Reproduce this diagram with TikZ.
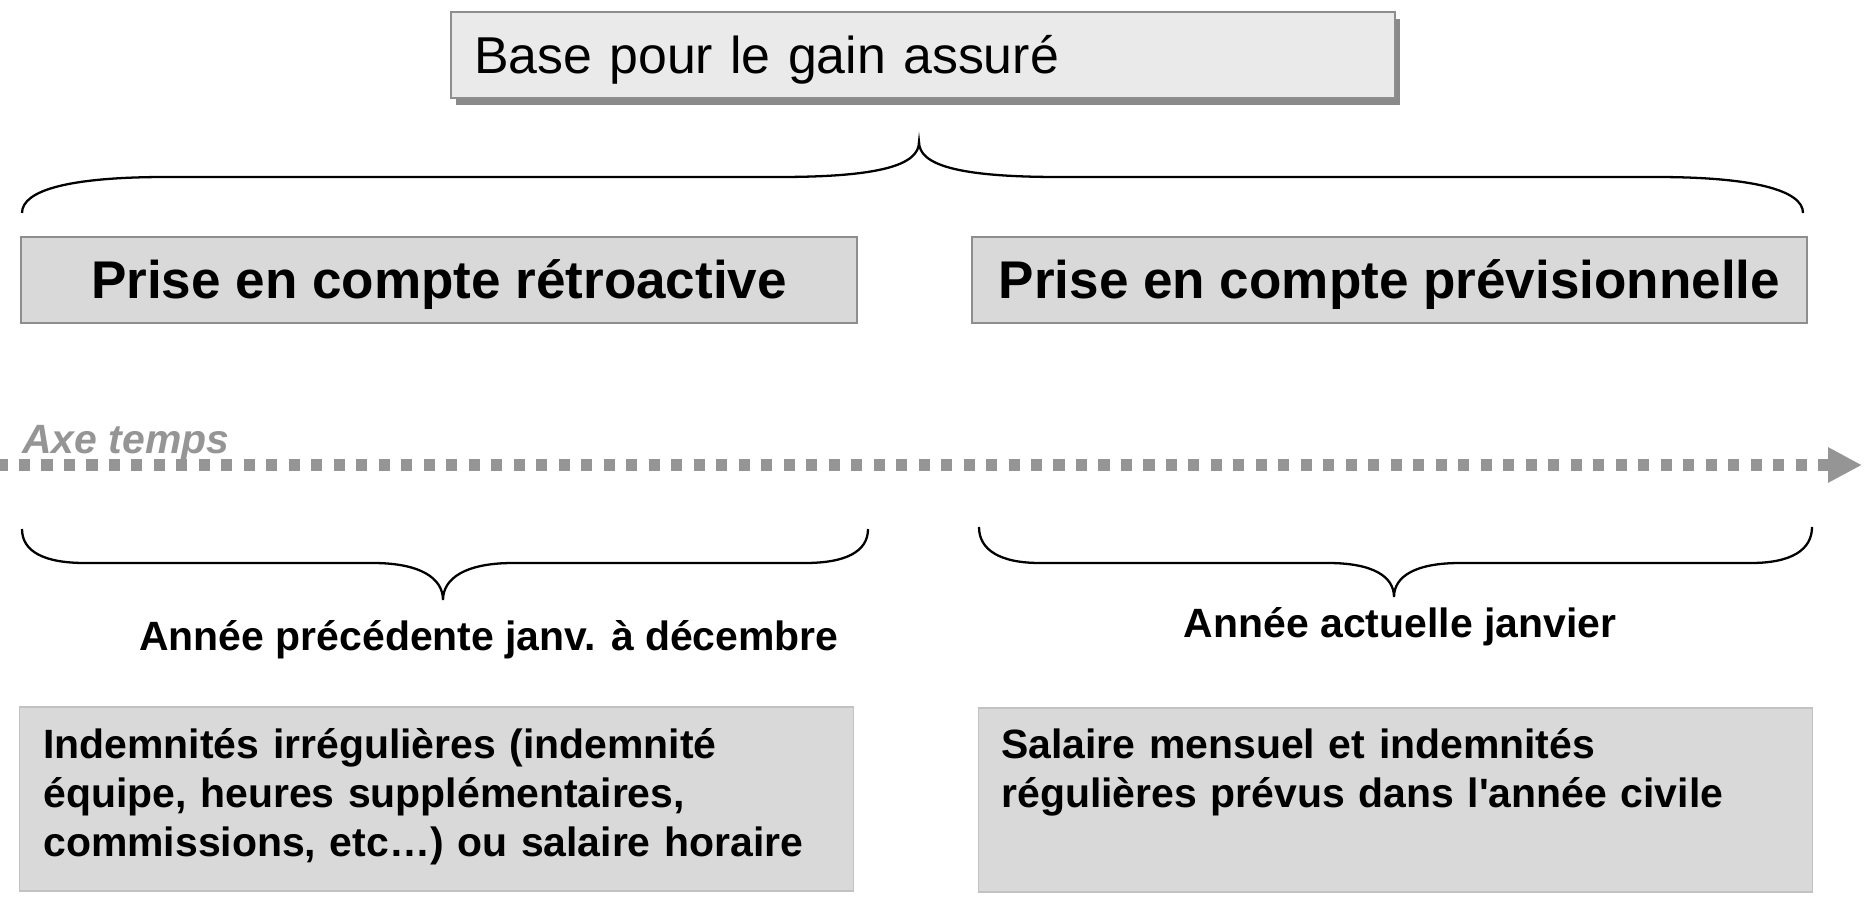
\documentclass[tikz,border=0pt]{standalone}
\usepackage{fontspec}
\setmainfont{Liberation Sans}
\usetikzlibrary{arrows.meta,shadows}

\definecolor{topfill}{HTML}{EAEAEA}
\definecolor{boxfill}{HTML}{D9D9D9}
\definecolor{edgegray}{HTML}{8E8E8E}
\definecolor{lightedge}{HTML}{C2C2C2}
\definecolor{shadegray}{HTML}{8A8A8A}
\definecolor{axisgray}{HTML}{959595}

\newcommand{\topfont}{\fontsize{29.5}{36}\selectfont}
\newcommand{\boxfont}{\fontsize{30.2}{36}\selectfont}
\newcommand{\notefont}{\fontsize{23.3}{27.9}\selectfont}

\tikzset{
  topbox/.style={draw=edgegray, line width=1.4pt, fill=topfill,
    drop shadow={shadow xshift=3pt, shadow yshift=-4pt, opacity=1, fill=shadegray},
    minimum height=1.72cm, text width=17.96cm, inner xsep=0.46cm, align=left,
    font=\topfont, text height=21.1pt, text depth=0pt},
  midbox/.style={draw=edgegray, line width=1.2pt, fill=boxfill,
    minimum width=16.72cm, minimum height=1.72cm,
    font=\boxfont\bfseries, text height=21.6pt, text depth=0pt},
  notebox/.style={draw=lightedge, line width=0.6pt, fill=boxfill,
    minimum width=16.7cm, minimum height=3.68cm},
  notetext/.style={anchor=base west, inner sep=0pt, text width=15.8cm,
    align=left, font=\notefont\bfseries},
  span/.style={anchor=base, inner sep=0pt, font=\notefont\bfseries},
  brace/.style={draw=black, line width=1.3pt},
  timeaxis/.style={draw=axisgray, line width=6.3pt,
    dash pattern=on 6.3pt off 6.5pt, dash phase=2pt,
    -{Triangle[length=19.3pt,width=18.8pt,fill=axisgray]}}
}

\begin{document}
\begin{tikzpicture}[x=0.02cm, y=-0.02cm]
  \useasboundingbox (0,0) rectangle (1875,902);

  % boxes
  \node[topbox] (base) at (923,55) {Base pour le gain assuré};
  \node[midbox] (retro) at (439,280) {Prise en compte rétroactive};
  \node[midbox] (prev) at (1389.5,280) {Prise en compte prévisionnelle};

  % top brace
  \draw[brace] (22,213) .. controls (22,190) and (70,177) .. (166,177)
    -- (779,177) .. controls (880,177) and (919,165) .. (919,142)
    .. controls (919,165) and (958,177) .. (1059,177)
    -- (1656,177) .. controls (1752,177) and (1803,190) .. (1803,213);

  % time axis
  \coordinate (tstart) at (0,465);
  \coordinate (tend) at (1862,465);
  \draw[timeaxis] (tstart) -- (tend);
  \node[anchor=base west, inner sep=0pt, text=axisgray,
    font=\notefont\bfseries\itshape] (axe) at (22,453) {Axe temps};

  % lower braces
  \draw[brace] (22,529) .. controls (22,552) and (45,563) .. (85,563)
    -- (373,563) .. controls (420,563) and (443,578) .. (443,600)
    .. controls (443,578) and (466,563) .. (513,563)
    -- (805,563) .. controls (845,563) and (868,552) .. (868,529);
  \draw[brace] (979,527) .. controls (979,550) and (1000,563) .. (1040,563)
    -- (1328,563) .. controls (1372,563) and (1394,576) .. (1394,597)
    .. controls (1394,576) and (1416,563) .. (1460,563)
    -- (1751,563) .. controls (1791,563) and (1812,550) .. (1812,527);

  \node[span] (lastyear) at (489,650) {Année précédente janv. à décembre};
  \node[span] (thisyear) at (1400,637) {Année actuelle janvier};

  % bottom boxes
  \node[notebox] (irrbox) at (436.5,799) {};
  \node[notetext] (irrtext) at (43,758)
    {Indemnités irrégulières (indemnité\\
     équipe, heures supplémentaires,\\
     commissions, etc…) ou salaire horaire};
  \node[notebox] (regbox) at (1395.5,800) {};
  \node[notetext] (regtext) at (1001,758)
    {Salaire mensuel et indemnités\\
     régulières prévus dans l\textquotesingle année civile};
\end{tikzpicture}
\end{document}
